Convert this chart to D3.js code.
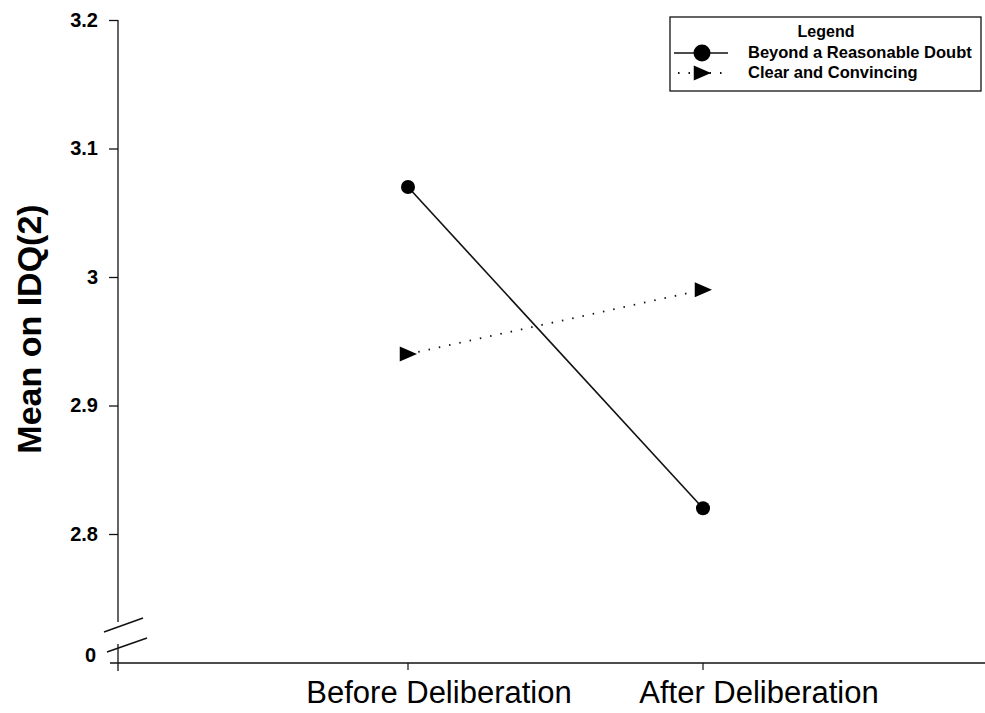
<!DOCTYPE html>
<html>
<head>
<meta charset="utf-8">
<script src="https://cdn.jsdelivr.net/npm/d3@7"></script>
<style>
  body { margin: 0; background: #fff; }
  svg { font-family: "Liberation Sans", Arial, Helvetica, sans-serif; }
</style>
</head>
<body>
<div id="chart"></div>
<script>
  // 数据
  const categories = ['Before Deliberation', 'After Deliberation'];
  const beyondValues = [3.07, 2.82];
  const clearValues = [2.94, 2.99];
  const yTicks = [2.8, 2.9, 3.0, 3.1, 3.2];
  const yTickLabels = ['2.8', '2.9', '3', '3.1', '3.2'];
  const seriesNames = ['Beyond a Reasonable Doubt', 'Clear and Convincing'];

  const width = 985, height = 713;
  const svg = d3.select('#chart').append('svg')
    .attr('width', width)
    .attr('height', height);

  // 比例尺
  const x = d3.scaleLinear().domain([0, 3]).range([113, 998]);
  const y = d3.scaleLinear().domain([2.8, 3.2]).range([534, 20]);
  const axisX = 118, baseY = 663;

  // y 轴（上段）
  const yAxis = d3.axisLeft(y).tickValues(yTicks)
    .tickFormat((d, i) => yTickLabels[i]).tickSize(9).tickPadding(11);
  const gy = svg.append('g').attr('transform', `translate(${axisX},0)`).call(yAxis);
  gy.select('.domain').remove();
  gy.selectAll('line').attr('stroke', '#111').attr('stroke-width', 1.3);
  gy.selectAll('text').attr('font-size', 20).attr('font-weight', 'bold').attr('fill', '#000')
    .attr('dy', '0.3em');
  svg.append('line')
    .attr('x1', axisX).attr('x2', axisX).attr('y1', y(3.2)).attr('y2', 622)
    .attr('stroke', '#111').attr('stroke-width', 1.3);
  // 断轴下段
  svg.append('line')
    .attr('x1', axisX).attr('x2', axisX).attr('y1', 644).attr('y2', 671)
    .attr('stroke', '#111').attr('stroke-width', 1.3);
  // 断轴标记
  [[104, 632, 143, 618], [107, 652, 147, 638]].forEach(b => {
    svg.append('line')
      .attr('x1', b[0]).attr('y1', b[1]).attr('x2', b[2]).attr('y2', b[3])
      .attr('stroke', '#111').attr('stroke-width', 1.5);
  });
  svg.append('text')
    .attr('x', 96).attr('y', baseY - 1)
    .attr('text-anchor', 'end')
    .attr('font-size', 20).attr('font-weight', 'bold')
    .text('0');

  // x 轴
  svg.append('line')
    .attr('x1', 110).attr('x2', 985).attr('y1', baseY).attr('y2', baseY)
    .attr('stroke', '#111').attr('stroke-width', 1.5);
  categories.forEach((c, i) => {
    svg.append('line')
      .attr('x1', x(i + 1)).attr('x2', x(i + 1))
      .attr('y1', baseY).attr('y2', baseY + 7)
      .attr('stroke', '#111').attr('stroke-width', 1.2);
  });
  const labelShift = [31, 56];
  categories.forEach((c, i) => {
    svg.append('text')
      .attr('x', x(i + 1) + labelShift[i]).attr('y', 703)
      .attr('text-anchor', 'middle')
      .attr('font-size', 31)
      .attr('fill', '#000')
      .text(c);
  });

  // y 轴标题
  svg.append('text')
    .attr('transform', 'translate(41,329) rotate(-90)')
    .attr('text-anchor', 'middle')
    .attr('font-size', 34).attr('font-weight', 'bold')
    .text('Mean on IDQ(2)');

  // 线条
  const line = d3.line().x((d, i) => x(i + 1)).y(d => y(d));
  svg.append('path').datum(beyondValues)
    .attr('d', line).attr('fill', 'none')
    .attr('stroke', '#111').attr('stroke-width', 1.6);
  svg.append('path').datum(clearValues)
    .attr('d', line).attr('fill', 'none')
    .attr('stroke', '#111').attr('stroke-width', 1.8)
    .attr('stroke-dasharray', '1.5,9');

  const triangle = (cx, cy, s) => `M${cx - s * 0.55},${cy - s * 0.5}L${cx + s * 0.6},${cy}L${cx - s * 0.55},${cy + s * 0.5}Z`;

  svg.append('g').selectAll('circle')
    .data(beyondValues).enter().append('circle')
    .attr('cx', (d, i) => x(i + 1)).attr('cy', d => y(d))
    .attr('r', 7).attr('fill', '#000');
  svg.append('g').selectAll('path')
    .data(clearValues).enter().append('path')
    .attr('d', (d, i) => triangle(x(i + 1), y(d), 15))
    .attr('fill', '#000');

  // 图例
  const lg = svg.append('g');
  lg.append('rect')
    .attr('x', 670).attr('y', 17).attr('width', 311).attr('height', 74)
    .attr('fill', '#fff').attr('stroke', '#111').attr('stroke-width', 1.3);
  lg.append('text')
    .attr('x', 826).attr('y', 37)
    .attr('text-anchor', 'middle')
    .attr('font-size', 16).attr('font-weight', 'bold')
    .text('Legend');
  const rows = [53, 73];
  lg.append('line').attr('x1', 674).attr('x2', 728).attr('y1', rows[0]).attr('y2', rows[0])
    .attr('stroke', '#111').attr('stroke-width', 1.6);
  lg.append('circle').attr('cx', 702).attr('cy', rows[0]).attr('r', 8.5).attr('fill', '#000');
  lg.append('line').attr('x1', 678).attr('x2', 728).attr('y1', rows[1]).attr('y2', rows[1])
    .attr('stroke', '#111').attr('stroke-width', 1.8).attr('stroke-dasharray', '1.5,9');
  lg.append('path').attr('d', triangle(702, rows[1], 15)).attr('fill', '#000');
  seriesNames.forEach((s, i) => {
    lg.append('text')
      .attr('x', 748).attr('y', rows[i] + 5)
      .attr('font-size', 16.5).attr('font-weight', 'bold')
      .text(s);
  });
</script>
</body>
</html>
